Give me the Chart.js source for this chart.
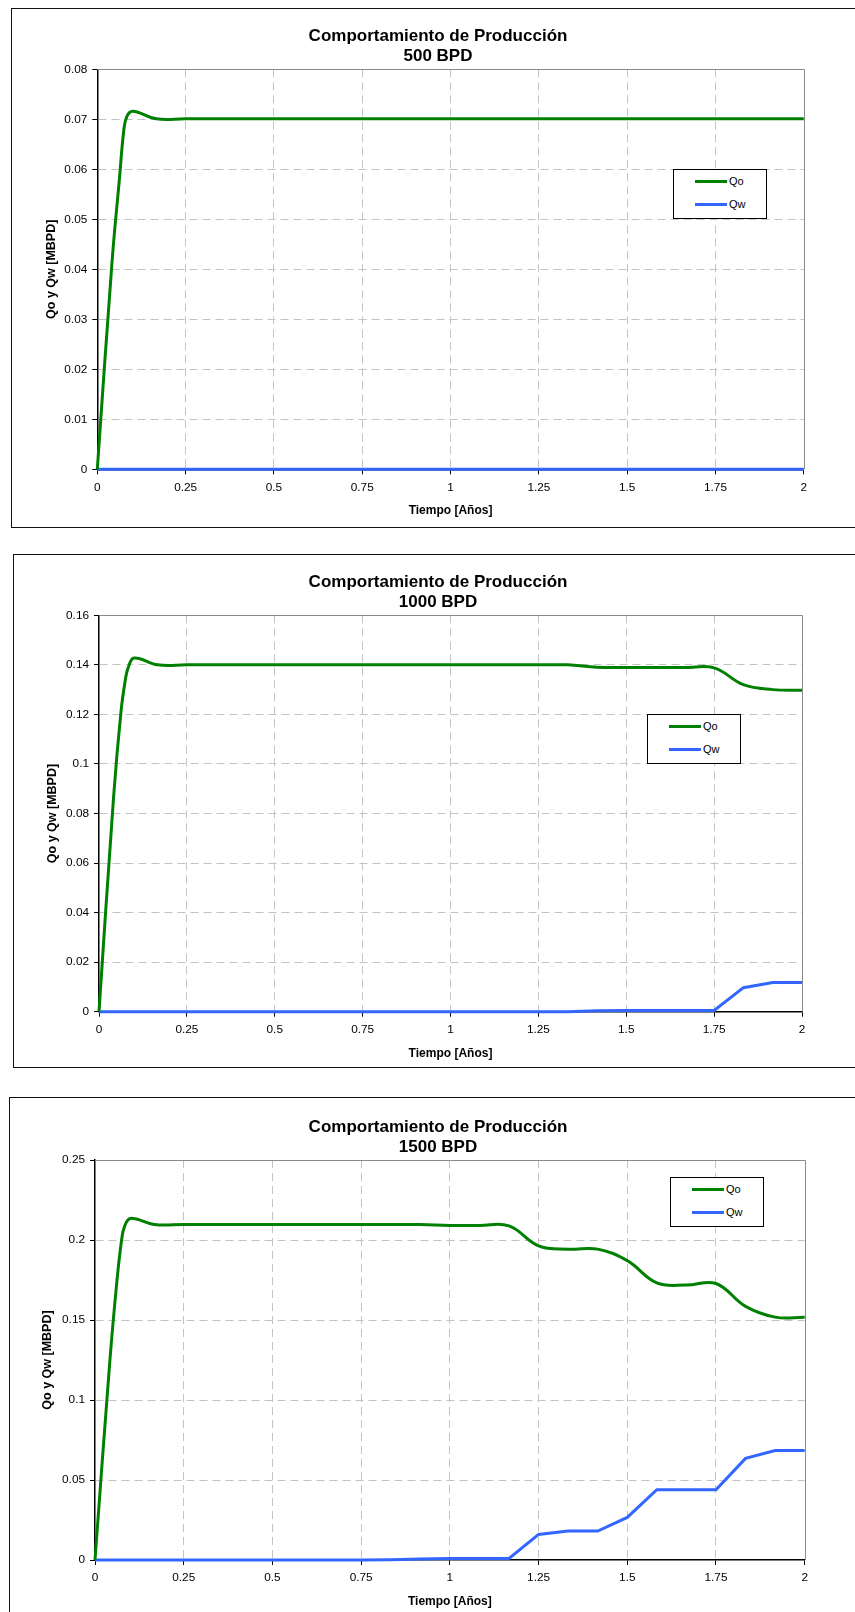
<!DOCTYPE html>
<html lang="es">
<head>
<meta charset="utf-8">
<title>Comportamiento de Producción</title>
<script src="https://cdn.jsdelivr.net/npm/chart.js@4/dist/chart.umd.min.js"></script>
<style>
  html, body { margin: 0; padding: 0; background: #fff; }
  body { width: 855px; height: 1612px; position: relative; overflow: hidden;
         font-family: "Liberation Sans", Arial, sans-serif; }
  .marco { position: absolute; right: -10px; border: 1.5px solid #111; box-sizing: border-box; }
  canvas { position: absolute; left: 0; }
  .leyenda { position: absolute; width: 94px; height: 50px; border: 1px solid #000;
             background: #fff; box-sizing: border-box; }
  .leyenda .muestra { position: absolute; left: 21px; width: 32px; height: 3px; }
  .leyenda .texto { position: absolute; left: 55px; font-size: 11px; line-height: 12px; color: #000; }
</style>
</head>
<body>
<script>
// Time axis (years) shared by the three simulations
const tiempo = [0, 0.0417, 0.0625, 0.075, 0.0833, 0.1, 0.1667, 0.25, 0.3333, 0.4167,
  0.5, 0.5833, 0.6667, 0.75, 0.8333, 0.9167, 1, 1.0833, 1.1667, 1.25,
  1.3333, 1.4167, 1.5, 1.5833, 1.6667, 1.75, 1.8333, 1.9167, 2];

// Tick values
const ticksX = [0, 0.25, 0.5, 0.75, 1, 1.25, 1.5, 1.75, 2];
const ticksY500 = [0, 0.01, 0.02, 0.03, 0.04, 0.05, 0.06, 0.07, 0.08];
const ticksY1000 = [0, 0.02, 0.04, 0.06, 0.08, 0.1, 0.12, 0.14, 0.16];
const ticksY1500 = [0, 0.05, 0.1, 0.15, 0.2, 0.25];

// Qo / Qw [MBPD] for each injection rate
const qo500 = [0, 0.0415, 0.058, 0.0678, 0.0705, 0.0716, 0.0701, 0.0701, 0.0701, 0.0701,
  0.0701, 0.0701, 0.0701, 0.0701, 0.0701, 0.0701, 0.0701, 0.0701, 0.0701, 0.0701,
  0.0701, 0.0701, 0.0701, 0.0701, 0.0701, 0.0701, 0.0701, 0.0701, 0.0701];
const qw500 = [0, 0, 0, 0, 0, 0, 0, 0, 0, 0,
  0, 0, 0, 0, 0, 0, 0, 0, 0, 0,
  0, 0, 0, 0, 0, 0, 0, 0, 0];

const qo1000 = [0, 0.087, 0.121, 0.134, 0.139, 0.1428, 0.14, 0.14, 0.14, 0.14,
  0.14, 0.14, 0.14, 0.14, 0.14, 0.14, 0.14, 0.14, 0.14, 0.14,
  0.14, 0.139, 0.1389, 0.1389, 0.1389, 0.1388, 0.132, 0.13, 0.1297];
const qw1000 = [0, 0, 0, 0, 0, 0, 0, 0, 0, 0,
  0, 0, 0, 0, 0, 0, 0, 0, 0, 0,
  0, 0.0004, 0.0005, 0.0005, 0.0005, 0.0005, 0.0097, 0.0118, 0.0118];

const qo1500 = [0, 0.124, 0.176, 0.2, 0.2085, 0.2135, 0.2097, 0.2097, 0.2097, 0.2097,
  0.2097, 0.2097, 0.2097, 0.2097, 0.2097, 0.2097, 0.2091, 0.2091, 0.2088, 0.1963,
  0.1942, 0.1943, 0.1871, 0.1732, 0.1718, 0.1728, 0.1585, 0.1518, 0.1517];
const qw1500 = [0, 0, 0, 0, 0, 0, 0, 0, 0, 0,
  0, 0, 0, 0, 0.0002, 0.0006, 0.001, 0.001, 0.001, 0.016,
  0.0181, 0.0181, 0.0266, 0.0439, 0.0439, 0.0439, 0.0635, 0.0684, 0.0684];

const subtitulos = ['500 BPD', '1000 BPD', '1500 BPD'];

// Page layout of each panel (frame, plot area, axis title, legend box)
const centroTitulo = 438;
const paneles = [
  { marco: { left: 11, top: 8, bottom: 528 },
    area: { left: 97.3, right: 803.8, top: 69.3, bottom: 469.3 },
    tituloY: 52, leyenda: { left: 673, top: 169 },
    qo: qo500, qw: qw500, ticksY: ticksY500, sub: subtitulos[0] },
  { marco: { left: 12.7, top: 554, bottom: 1068 },
    area: { left: 99, right: 802, top: 615.3, bottom: 1011.7 },
    tituloY: 53, leyenda: { left: 647, top: 714 },
    qo: qo1000, qw: qw1000, ticksY: ticksY1000, sub: subtitulos[1] },
  { marco: { left: 9, top: 1097, bottom: 1620 },
    area: { left: 95, right: 804.7, top: 1160, bottom: 1560 },
    tituloY: 48, leyenda: { left: 670, top: 1177 },
    qo: qo1500, qw: qw1500, ticksY: ticksY1500, sub: subtitulos[2] }
];

Chart.defaults.font.family = '"Liberation Sans", Arial, sans-serif';
Chart.defaults.color = '#000';

const fmt = v => String(Number(Number(v).toFixed(4)));
const puntos = (xs, ys) => xs.map((x, i) => ({ x: x, y: ys[i] }));

// Grey frame on the top and right sides of the plot area
const bordeArea = {
  id: 'bordeArea',
  beforeDatasetsDraw(chart) {
    const { ctx, chartArea: a } = chart;
    const t = Math.round(a.top) + 0.5, r = Math.round(a.right) + 0.5;
    ctx.save();
    ctx.strokeStyle = '#8a8a8a';
    ctx.lineWidth = 1;
    ctx.beginPath();
    ctx.moveTo(a.left, t);
    ctx.lineTo(r, t);
    ctx.lineTo(r, a.bottom);
    ctx.stroke();
    ctx.restore();
  }
};

// Re-centre the header block horizontally on the panel's title column
const centrarTitulo = {
  id: 'centrarTitulo',
  afterLayout(chart, args, opts) {
    const tb = chart.titleBlock;
    if (!tb) return;
    const w = tb.right - tb.left;
    tb.left = opts.centro - w / 2;
    tb.right = opts.centro + w / 2;
  }
};

paneles.forEach((p) => {
  const alto = Math.min(p.marco.bottom, 1612) - p.marco.top;

  const marco = document.createElement('div');
  marco.className = 'marco';
  marco.style.left = p.marco.left + 'px';
  marco.style.top = p.marco.top + 'px';
  marco.style.height = (p.marco.bottom - p.marco.top) + 'px';
  document.body.appendChild(marco);

  const canvas = document.createElement('canvas');
  canvas.width = 855;
  canvas.height = alto;
  canvas.style.width = '855px';
  canvas.style.height = alto + 'px';
  canvas.style.top = p.marco.top + 'px';
  document.body.appendChild(canvas);

  const a = p.area;
  const topArea = a.top - p.marco.top;
  const bottomArea = a.bottom - p.marco.top;
  const yMax = p.ticksY[p.ticksY.length - 1];
  const xTitleLH = 12 * 1.2, yTitleLH = 12.5 * 1.2;

  const grid = (maxV) => ({
    color: c => (c.tick && c.tick.value > 0 && c.tick.value < maxV - 1e-9) ? '#c4c4c4' : 'rgba(0,0,0,0)',
    lineWidth: 1,
    tickColor: '#000',
    tickLength: 5,
    tickWidth: 1
  });

  const chart = new Chart(canvas, {
    type: 'line',
    data: {
      datasets: [
        { label: 'Qo', data: puntos(tiempo, p.qo), borderColor: '#008000', backgroundColor: '#008000',
          borderWidth: 3, pointRadius: 0, tension: 0.4, fill: false, clip: 4 },
        { label: 'Qw', data: puntos(tiempo, p.qw), borderColor: '#3366ff', backgroundColor: '#3366ff',
          borderWidth: 3, pointRadius: 0, tension: 0, fill: false, clip: 4 }
      ]
    },
    options: {
      responsive: false,
      animation: false,
      devicePixelRatio: 1,
      layout: { padding: { left: 0, right: 855 - a.right, top: 0, bottom: 0 } },
      plugins: {
        legend: { display: false },
        tooltip: { enabled: false },
        centrarTitulo: { centro: centroTitulo },
        title: {
          display: true,
          text: ['Comportamiento de Producción', p.sub],
          color: '#000',
          font: { size: 17, weight: 'bold', lineHeight: 20 / 17 },
          padding: { top: topArea - 42.5, bottom: 2.5 }
        }
      },
      scales: {
        x: {
          type: 'linear', min: 0, max: 2,
          afterBuildTicks: s => { s.ticks = ticksX.map(v => ({ value: v })); },
          afterFit: s => { s.height = alto - bottomArea; },
          ticks: { font: { size: 11.8 }, color: '#000', padding: 6, maxRotation: 0, autoSkip: false,
                   callback: v => fmt(v) },
          grid: grid(2),
          border: { display: true, color: '#000', width: 1.5, dash: [8, 5] },
          title: { display: true, text: 'Tiempo [Años]', color: '#000',
                   font: { size: 12, weight: 'bold', lineHeight: 1.2 },
                   padding: { top: 0, bottom: alto - xTitleLH / 2 - (bottomArea + 41.5) } }
        },
        y: {
          type: 'linear', min: 0, max: yMax,
          afterBuildTicks: s => { s.ticks = p.ticksY.map(v => ({ value: v })); },
          afterFit: s => { s.width = a.left; },
          ticks: { font: { size: 11.8 }, color: '#000', padding: 5, autoSkip: false,
                   callback: v => fmt(v) },
          grid: grid(yMax),
          border: { display: true, color: '#000', width: 1.5, dash: [8, 5] },
          title: { display: true, text: 'Qo y Qw [MBPD]', color: '#000',
                   font: { size: 12.5, weight: 'bold', lineHeight: 1.2 },
                   padding: { top: p.tituloY - yTitleLH / 2, bottom: 0 } }
        }
      }
    },
    plugins: [bordeArea, centrarTitulo]
  });

  // Legend box built from the chart's datasets
  const ley = document.createElement('div');
  ley.className = 'leyenda';
  ley.style.left = p.leyenda.left + 'px';
  ley.style.top = p.leyenda.top + 'px';
  chart.data.datasets.forEach((ds, i) => {
    const cy = i === 0 ? 11 : 34.5;
    const m = document.createElement('div');
    m.className = 'muestra';
    m.style.top = (cy - 1.5) + 'px';
    m.style.background = ds.borderColor;
    const t = document.createElement('div');
    t.className = 'texto';
    t.style.top = (cy - 6.5) + 'px';
    t.textContent = ds.label;
    ley.appendChild(m);
    ley.appendChild(t);
  });
  document.body.appendChild(ley);
});
</script>
</body>
</html>
